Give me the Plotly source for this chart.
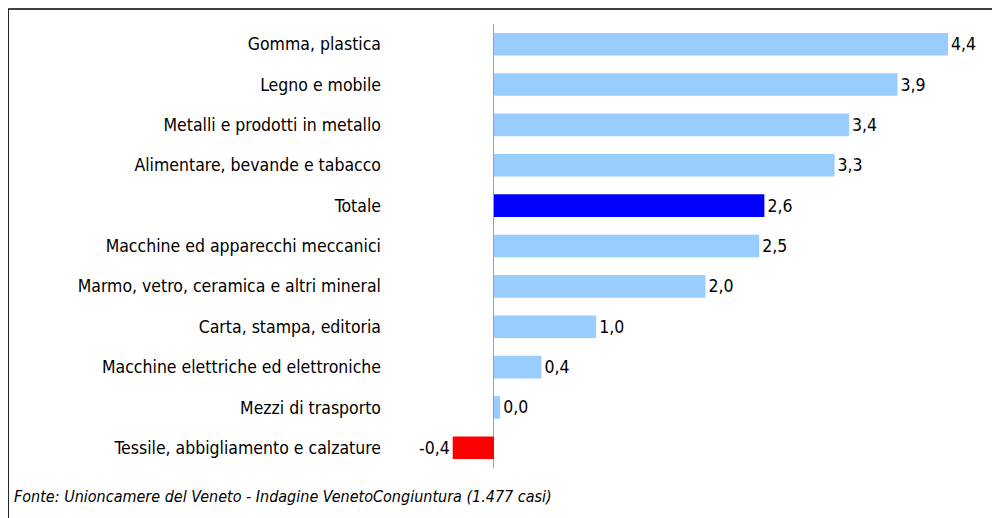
import plotly.graph_objects as go

categories = [
    "Gomma, plastica",
    "Legno e mobile",
    "Metalli e prodotti in metallo",
    "Alimentare, bevande e tabacco",
    "Totale",
    "Macchine ed apparecchi meccanici",
    "Marmo, vetro, ceramica e altri mineral",
    "Carta, stampa, editoria",
    "Macchine elettriche ed elettroniche",
    "Mezzi di trasporto",
    "Tessile, abbigliamento e calzature",
]
values = [4.40, 3.91, 3.44, 3.30, 2.62, 2.57, 2.05, 0.99, 0.46, 0.06, -0.40]
labels = ["4,4", "3,9", "3,4", "3,3", "2,6", "2,5", "2,0", "1,0", "0,4", "0,0", "-0,4"]
source = "Fonte: Unioncamere del Veneto - Indagine VenetoCongiuntura (1.477 casi)"

colors = []
for c, v in zip(categories, values):
    if c == "Totale":
        colors.append("#0000FF")
    elif v < 0:
        colors.append("#FF0000")
    else:
        colors.append("#99CCFF")

FONT = "DejaVu Sans Condensed, DejaVu Sans, sans-serif"
FS = 17.5

fig = go.Figure(go.Bar(
    x=values, y=categories, orientation="h",
    marker=dict(color=colors, line=dict(width=0)),
    text=labels, textposition="outside", cliponaxis=False,
    textfont=dict(family=FONT, size=FS, color="#000000"),
    width=0.56,
))

fig.update_layout(
    width=1000, height=518,
    margin=dict(l=374, r=8, t=16, b=58),
    paper_bgcolor="white", plot_bgcolor="white",
    showlegend=False,
    font=dict(family=FONT, size=FS, color="#000000"),
    xaxis=dict(range=[-1.085, 4.903], showgrid=False, showticklabels=False,
               zeroline=True, zerolinecolor="#A0A0A0", zerolinewidth=1,
               showline=False, ticks=""),
    yaxis=dict(autorange="reversed", showgrid=False, showline=False, ticks="",
               tickfont=dict(family=FONT, size=FS, color="#000000")),
    shapes=[
        dict(type="line", xref="paper", yref="paper", x0=-0.605, x1=1.05,
             y0=1.0338, y1=1.0338, line=dict(color="black", width=1.5)),
        dict(type="line", xref="paper", yref="paper", x0=-0.605, x1=-0.605,
             y0=1.0338, y1=-0.2, line=dict(color="black", width=1.5)),
    ],
    annotations=[
        dict(text=source, xref="paper", yref="paper", x=-0.5987, y=-0.0653,
             xanchor="left", yanchor="middle", showarrow=False,
             font=dict(family=FONT, size=16, color="#000000", style="italic")),
    ],
)

fig.write_html("out.html")
